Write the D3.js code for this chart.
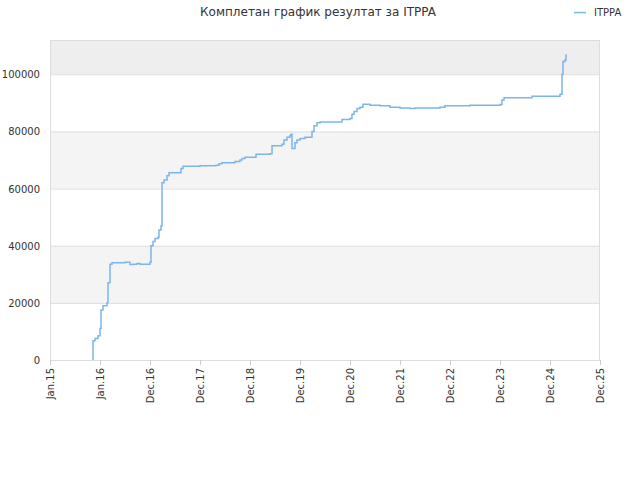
<!DOCTYPE html><html><head><meta charset="utf-8"><script src="https://cdn.jsdelivr.net/npm/d3@7"></script>
<style>body{margin:0;background:#fff}</style></head><body><svg id="c" width="640" height="480"></svg><script>
const tickLabels=["Jan.15","Jan.16","Dec.16","Dec.17","Dec.18","Dec.19","Dec.20","Dec.21","Dec.22","Dec.23","Dec.24","Dec.25"];
const yTicks=[0,20000,40000,60000,80000,100000];
// time in tick-index units
const tPos=[0.86,0.86,0.9,0.96,1.0,1.02,1.06,1.14,1.16,1.2,1.24,1.5,1.6,1.66,1.74,1.8,2.0,2.02,2.06,2.1,2.16,2.18,2.22,2.24,2.28,2.34,2.38,2.56,2.62,2.66,3.0,3.32,3.38,3.44,3.56,3.7,3.8,3.84,3.9,4.06,4.12,4.4,4.44,4.64,4.68,4.74,4.8,4.82,4.84,4.9,4.94,5.0,5.1,5.18,5.24,5.28,5.34,5.4,5.8,5.84,6.0,6.04,6.08,6.14,6.2,6.26,6.4,6.6,6.8,7.0,7.2,7.3,7.8,7.9,8.4,9.0,9.04,9.08,9.6,9.64,10.16,10.2,10.24,10.26,10.3,10.32];
const vals=[0,6700,7500,8500,11000,17500,19000,20000,27000,33500,34000,34200,33400,33500,33800,33500,34200,40000,41500,42500,43000,45500,47000,62000,63000,64500,65500,65500,67000,67800,68000,68200,68700,69000,69000,69500,70000,70500,71000,71000,72000,72200,75000,75500,77000,78000,78500,79000,74000,76000,77000,77500,78000,78000,80000,82000,83000,83300,83300,84200,84500,86000,87000,88000,88500,89500,89200,89000,88500,88200,88000,88200,88500,89000,89200,89400,91000,91800,91800,92300,92300,93000,100000,104500,105000,107000];
const svg=d3.select("#c");
const m={l:50,r:600,t:40,b:360};
const x=d3.scaleLinear().domain([0,11]).range([m.l,m.r]);
const y=d3.scaleLinear().domain([0,112000]).range([m.b,m.t]);
const bands=[[0,20000,"#fff"],[20000,40000,"#f4f4f4"],[40000,60000,"#fff"],[60000,80000,"#f4f4f4"],[80000,100000,"#fff"],[100000,112000,"#eeeeee"]];
svg.selectAll(".b").data(bands).enter().append("rect").attr("x",m.l).attr("width",m.r-m.l).attr("y",d=>y(d[1])).attr("height",d=>y(d[0])-y(d[1])).attr("fill",d=>d[2]);
svg.selectAll(".g").data(yTicks).enter().append("line").attr("x1",m.l).attr("x2",m.r).attr("y1",d=>y(d)+.5).attr("y2",d=>y(d)+.5).attr("stroke","#ddd");
svg.append("rect").attr("x",m.l+.5).attr("y",m.t+.5).attr("width",m.r-m.l-1).attr("height",m.b-m.t).attr("fill","none").attr("stroke","#ddd");
svg.selectAll(".yl").data(yTicks).enter().append("text").attr("x",m.l-10).attr("y",d=>y(d)+4).attr("text-anchor","end").attr("font-family","DejaVu Sans").attr("font-size",10).attr("fill","#333").text(d=>d);
svg.selectAll(".xt").data(tickLabels).enter().append("line").attr("x1",(d,i)=>x(i)+.5).attr("x2",(d,i)=>x(i)+.5).attr("y1",m.b).attr("y2",m.b+5).attr("stroke","#ccc");
svg.selectAll(".xl").data(tickLabels).enter().append("text").attr("transform",(d,i)=>`translate(${x(i)+4},${m.b+8}) rotate(-90)`).attr("text-anchor","end").attr("font-family","DejaVu Sans").attr("font-size",10).attr("fill","#333").text(d=>d);
const pts=tPos.map((t,i)=>[t,vals[i]]);
svg.append("path").attr("d",d3.line().x(d=>x(d[0])).y(d=>y(d[1])).curve(d3.curveStepAfter)(pts)).attr("fill","none").attr("stroke","#7cb5ec").attr("stroke-width",1.5);
svg.append("text").attr("x",318).attr("y",16).attr("text-anchor","middle").attr("font-family","DejaVu Sans").attr("font-size",12).attr("fill","#333").text("Комплетан график резултат за ITPPA");
svg.append("line").attr("x1",574).attr("x2",586).attr("y1",12.5).attr("y2",12.5).attr("stroke","#7cb5ec").attr("stroke-width",1.5);
svg.append("text").attr("x",594).attr("y",16).attr("font-family","DejaVu Sans").attr("font-size",10).attr("fill","#333").text("ITPPA");
</script></body></html>
